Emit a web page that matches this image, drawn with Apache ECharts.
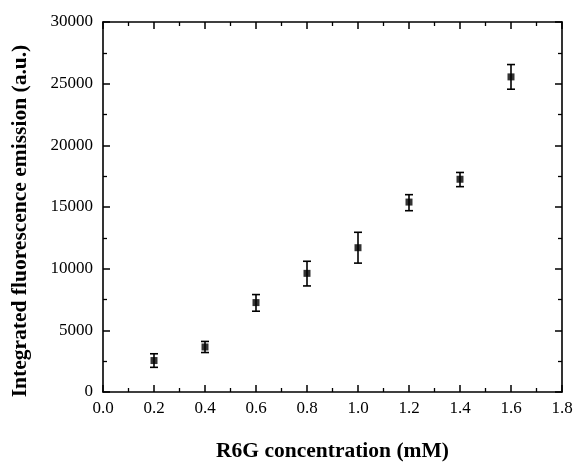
<!DOCTYPE html>
<html>
<head>
<meta charset="utf-8">
<script src="https://cdn.jsdelivr.net/npm/echarts@6/dist/echarts.min.js"></script>
<style>html,body{margin:0;padding:0;background:#fff;}#c{width:576px;height:462px;}</style>
</head>
<body>
<div id="c"></div>
<script>
var concentration = [0.2, 0.4, 0.6, 0.8, 1.0, 1.2, 1.4, 1.6];
var emission = [2550, 3650, 7250, 9620, 11700, 15400, 17250, 25550];
var errorLow = [2000, 3200, 6550, 8600, 10450, 14700, 16650, 24550];
var errorHigh = [3100, 4100, 7900, 10600, 12950, 16000, 17800, 26550];

var font = 'Liberation Serif';
var chart = echarts.init(document.getElementById('c'));
var pts = concentration.map(function (x, i) { return [x, emission[i]]; });
var errs = concentration.map(function (x, i) { return [x, errorLow[i], errorHigh[i]]; });

function common(extra) {
  return Object.assign({
    type: 'value',
    axisLine: { show: true, onZero: false, lineStyle: { color: '#000', width: 1.6 } },
    axisTick: { show: true, inside: true, length: 7, lineStyle: { color: '#000', width: 1.5 } },
    minorTick: { show: true, splitNumber: 2, length: 4, lineStyle: { color: '#000', width: 1.3 } },
    splitLine: { show: false },
    minorSplitLine: { show: false },
    axisLabel: { show: false }
  }, extra);
}
function baseX(extra) { return common(Object.assign({ min: 0, max: 1.8, interval: 0.2 }, extra)); }
function baseY(extra) { return common(Object.assign({ min: 0, max: 30000, interval: 5000 }, extra)); }

chart.setOption({
  animation: false,
  backgroundColor: '#fff',
  grid: { left: 103, right: 14, top: 22, bottom: 70, containLabel: false, outerBoundsMode: 'none' },
  xAxis: [
    baseX({
      position: 'bottom',
      axisLabel: { show: true, margin: 8, color: '#000', fontFamily: font, fontSize: 17,
        formatter: function (v) { return v.toFixed(1); } },
      name: 'R6G concentration (mM)', nameLocation: 'middle', nameGap: 48,
      nameTextStyle: { color: '#000', fontFamily: font, fontSize: 21.5, fontWeight: 'bold' }
    }),
    baseX({ position: 'top' })
  ],
  yAxis: [
    baseY({
      position: 'left',
      axisLabel: { show: true, margin: 10, color: '#000', fontFamily: font, fontSize: 17,
        formatter: function (v) { return String(v); } },
      name: 'Integrated fluorescence emission (a.u.)', nameLocation: 'middle', nameGap: 72,
      nameTextStyle: { color: '#000', fontFamily: font, fontSize: 21.5, fontWeight: 'bold',
        padding: [0, 28, 0, 0] }
    }),
    baseY({ position: 'right' })
  ],
  series: [
    {
      type: 'custom',
      xAxisIndex: 0, yAxisIndex: 0,
      data: errs,
      renderItem: function (params, api) {
        var x = api.value(0);
        var lo = api.coord([x, api.value(1)]);
        var hi = api.coord([x, api.value(2)]);
        var w = 4;
        var st = { stroke: '#000', lineWidth: 1.6 };
        return { type: 'group', children: [
          { type: 'line', shape: { x1: lo[0], y1: lo[1], x2: hi[0], y2: hi[1] }, style: st },
          { type: 'line', shape: { x1: lo[0] - w, y1: lo[1], x2: lo[0] + w, y2: lo[1] }, style: st },
          { type: 'line', shape: { x1: hi[0] - w, y1: hi[1], x2: hi[0] + w, y2: hi[1] }, style: st }
        ]};
      },
      z: 2
    },
    {
      type: 'scatter',
      xAxisIndex: 0, yAxisIndex: 0,
      data: pts,
      symbol: 'rect', symbolSize: 7,
      itemStyle: { color: '#000' },
      z: 3
    }
  ]
});
</script>
</body>
</html>
